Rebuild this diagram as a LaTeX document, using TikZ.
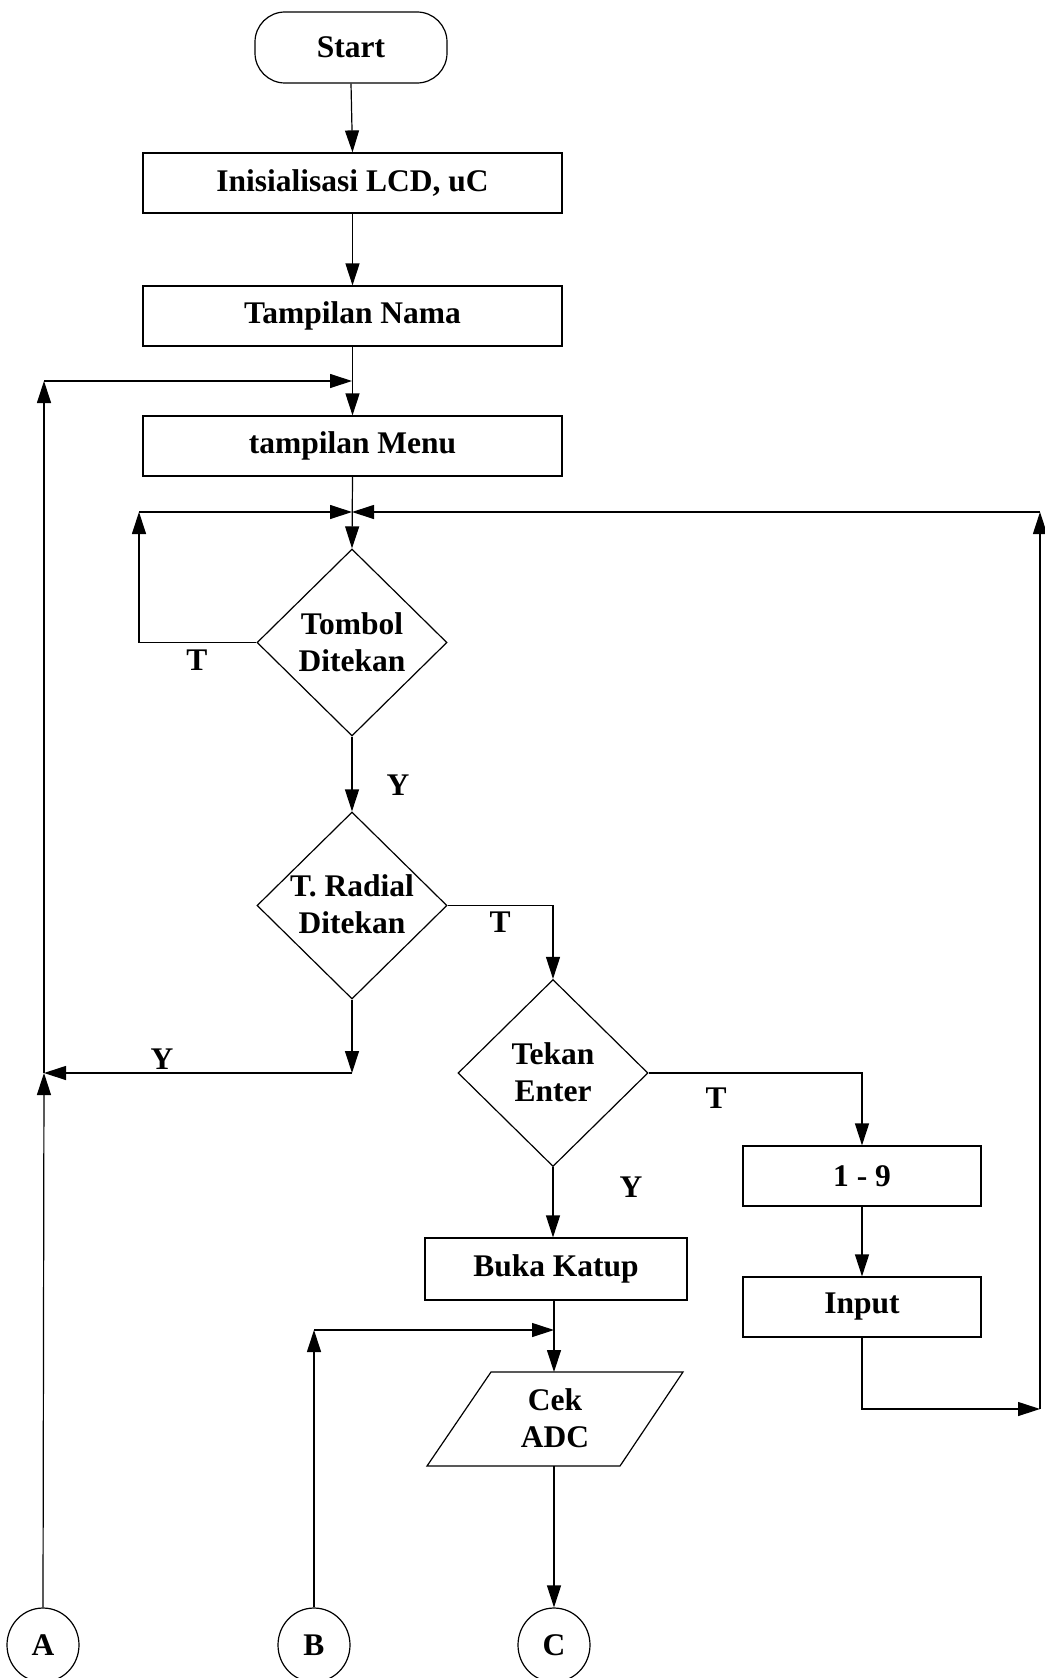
\documentclass[tikz,border=0pt]{standalone}
\usepackage{fontspec}
\setmainfont{Liberation Serif}
\usetikzlibrary{shapes.geometric,arrows.meta}
\begin{document}
\begin{tikzpicture}[x=1pt,y=-1pt,
  every node/.style={font=\bfseries\fontsize{31.5}{37}\selectfont},
  ln/.style={line width=1.2pt},
  arr/.style={ln,-{Triangle[length=22pt,width=14pt]}},
  term/.style={draw,ln,rounded corners=30pt,minimum width=192pt,minimum height=71pt,inner sep=0pt},
  pbox/.style={draw,ln,minimum width=419pt,minimum height=60pt,inner sep=0pt},
  dec/.style={draw,ln,shape=diamond,minimum width=190pt,minimum height=187pt,inner sep=0pt},
  txt/.style={align=center,inner sep=0pt},
  conn/.style={draw,ln,shape=ellipse,minimum width=72pt,minimum height=74pt,inner sep=0pt}]
\useasboundingbox (0,0) rectangle (1044,1678);
% nodes
\node[term] (start) at (351,47.5) {Start};
\node[pbox] (init) at (352.5,183) {Inisialisasi LCD, uC};
\node[pbox] (nama) at (352.5,316) {Tampilan Nama};
\node[pbox] (menu) at (352.5,446) {tampilan Menu};
\node[dec] (tombol) at (352,642.5) {};
\node[txt] (tombolt) at (352,642) {Tombol\\Ditekan};
\node[dec] (radial) at (352,905.5) {};
\node[txt] (radialt) at (352,904) {T. Radial\\Ditekan};
\node[dec] (enter) at (553,1073) {};
\node[txt] (entert) at (553,1072) {Tekan\\Enter};
\node[pbox,minimum width=262pt,minimum height=62pt] (buka) at (556,1269) {Buka Katup};
\node[pbox,minimum width=238pt] (n19) at (862,1176) {1 - 9};
\node[pbox,minimum width=238pt] (input) at (862,1307) {Input};
\draw[ln] (491,1372) -- (683,1372) -- (620,1466) -- (427,1466) -- cycle;
\node[txt] (cek) at (555,1418) {Cek\\ADC};
\coordinate (cektop) at (554,1372);
\coordinate (cekbot) at (554,1466);
\node[conn] (A) at (43,1645) {A};
\node[conn] (B) at (314,1645) {B};
\node[conn] (C) at (554,1645) {C};
% labels
\node[txt] (l1) at (197,660) {T};
\node[txt] (l2) at (398,785) {Y};
\node[txt] (l3) at (500,922) {T};
\node[txt] (l4) at (162,1059) {Y};
\node[txt] (l5) at (716,1098) {T};
\node[txt] (l6) at (631,1187) {Y};
% junctions
\coordinate (j1) at (352,381);
\coordinate (j2) at (352,512);
\coordinate (ta) at (44,381);
\coordinate (ja) at (44,1073);
\coordinate (jy) at (352,1073);
\coordinate (tl) at (139,512);
\coordinate (tr) at (1040,512);
\coordinate (br) at (1040,1409);
\coordinate (jb) at (554,1330);
\coordinate (tb) at (314,1330);
% connectors
\draw[arr] (start.south) -- (init.north);
\draw[arr] (init.south) -- (nama.north);
\draw[arr] (nama.south) -- (menu.north);
\draw[arr] (menu.south) -- (tombol.north);
\draw[arr] (tombol.west) -| (tl);
\draw[arr] (tl) -- (j2);
\draw[arr] (tombol.south) -- (radial.north);
\draw[arr] (radial.east) -| (enter.north);
\draw[arr] (radial.south) -- (jy);
\draw[arr] (jy) -- (ja);
\draw[arr] (A.north) -- (ja);
\draw[arr] (ja) -- (ta);
\draw[arr] (ta) -- (j1);
\draw[arr] (enter.east) -| (n19.north);
\draw[arr] (enter.south) -- (enter.south |- buka.north);
\draw[arr] (n19.south) -- (input.north);
\draw[arr] (input.south) |- (br);
\draw[arr] (br) -- (tr);
\draw[arr] (tr) -- (j2);
\draw[arr] (buka.south -| cektop) -- (cektop);
\draw[arr] (B.north) -- (tb);
\draw[arr] (tb) -- (jb);
\draw[arr] (cekbot) -- (C.north);
\end{tikzpicture}
\end{document}
